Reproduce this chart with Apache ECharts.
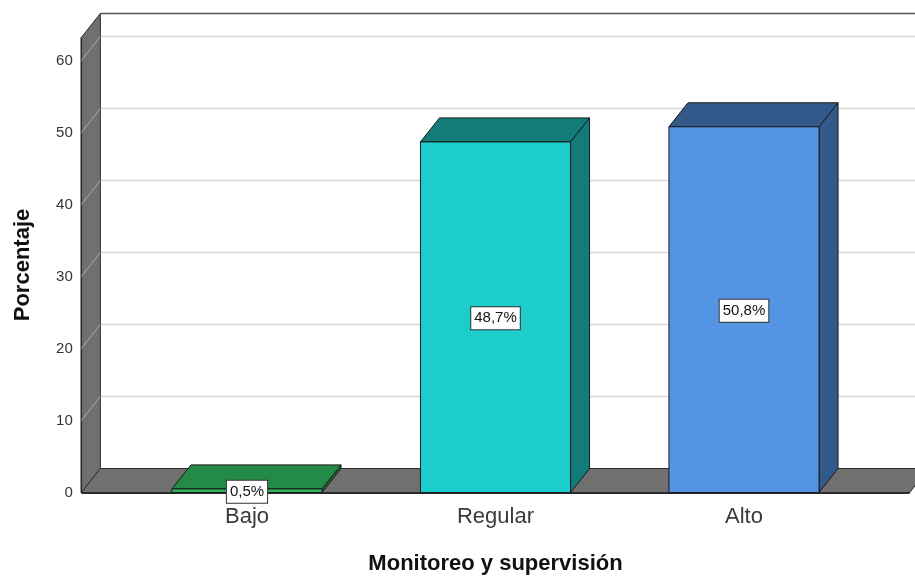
<!DOCTYPE html>
<html>
<head>
<meta charset="utf-8">
<title>Monitoreo y supervisión</title>
<script src="https://cdn.jsdelivr.net/npm/echarts@6/dist/echarts.min.js"></script>
<style>
  html, body { margin: 0; padding: 0; background: #ffffff; }
  #chart { width: 915px; height: 576px; }
</style>
</head>
<body>
<div id="chart"></div>
<script>
// Categories and percentages
var categories = ['Bajo', 'Regular', 'Alto'];
var percentages = [0.5, 48.7, 50.8];
var yTicks = [0, 10, 20, 30, 40, 50, 60];

// Face colours of each bar: front, top, side
var barFaces = [
  { front: '#31b25c', top: '#248a48', side: '#1b6c38' },
  { front: '#1ccdcc', top: '#127c79', side: '#127c79' },
  { front: '#5495e3', top: '#33598a', side: '#33598a' }
];

// Oblique depth used for the 3D look (pixels)
var DX = 19, DY = -24;
var WALL = '#707070';
var EDGE = '#2b2b2b';

var FONT = '"Liberation Sans", Arial, sans-serif';

function fmtPct(v) {
  return v.toFixed(1).replace('.', ',') + '%';
}

// Back wall, grid lines, left wall and floor
function renderFrame(params, api) {
  var cs = params.coordSys;
  var band = api.size([1, 0])[0];
  var ext = band / 6;
  var L = cs.x - ext;
  var R = cs.x + cs.width + ext;
  var top = cs.y;
  var zero = api.coord([0, 0])[1];
  var children = [];

  // back wall top edge
  children.push({
    type: 'line',
    shape: { x1: L + DX, y1: top + DY, x2: R + DX, y2: top + DY },
    style: { stroke: '#555555', lineWidth: 1.5 }
  });

  // horizontal grid lines on the back wall
  yTicks.forEach(function (t) {
    if (t === 0) return;
    var y = api.coord([0, t])[1];
    children.push({
      type: 'line',
      shape: { x1: L + DX, y1: y + DY, x2: R + DX, y2: y + DY },
      style: { stroke: '#d6d6d6', lineWidth: 1.5 }
    });
  });

  // left wall with its diagonal tick lines
  children.push({
    type: 'polygon',
    shape: { points: [[L, top], [L + DX, top + DY], [L + DX, zero + DY], [L, zero]] },
    style: { fill: WALL, stroke: EDGE, lineWidth: 1 }
  });
  children.push({
    type: 'line',
    shape: { x1: L, y1: top, x2: L, y2: zero },
    style: { stroke: EDGE, lineWidth: 1.5 }
  });
  yTicks.forEach(function (t) {
    if (t === 0) return;
    var y = api.coord([0, t])[1];
    children.push({
      type: 'line',
      shape: { x1: L, y1: y, x2: L + DX, y2: y + DY },
      style: { stroke: '#a8a8a8', lineWidth: 1 }
    });
  });

  // floor
  children.push({
    type: 'polygon',
    shape: { points: [[L, zero], [L + DX, zero + DY], [R + DX, zero + DY], [R, zero]] },
    style: { fill: WALL, stroke: EDGE, lineWidth: 1 }
  });
  children.push({
    type: 'line',
    shape: { x1: L, y1: zero + 0.5, x2: R, y2: zero + 0.5 },
    style: { stroke: EDGE, lineWidth: 2 }
  });

  return { type: 'group', children: children };
}

// One oblique bar per category
function renderBar(params, api) {
  var i = api.value(0);
  var v = api.value(1);
  var base = api.coord([i, 0]);
  var head = api.coord([i, v]);
  var band = api.size([1, 0])[0];
  var hw = band * 0.302;
  var cx = base[0];
  var x0 = cx - hw, x1 = cx + hw;
  var y0 = base[1], y1 = head[1];
  var c = barFaces[params.dataIndex];
  var line = { stroke: '#1a1a1a', lineWidth: 1 };

  return {
    type: 'group',
    children: [
      {
        type: 'polygon',
        shape: { points: [[x1, y1], [x1 + DX, y1 + DY], [x1 + DX, y0 + DY], [x1, y0]] },
        style: Object.assign({ fill: c.side }, line)
      },
      {
        type: 'polygon',
        shape: { points: [[x0, y1], [x0 + DX, y1 + DY], [x1 + DX, y1 + DY], [x1, y1]] },
        style: Object.assign({ fill: c.top }, line)
      },
      {
        type: 'rect',
        shape: { x: x0, y: y1, width: x1 - x0, height: y0 - y1 },
        style: Object.assign({ fill: c.front }, line)
      },
      {
        type: 'text',
        x: cx,
        y: (y0 + y1) / 2 + 1,
        style: {
          text: fmtPct(v),
          font: '15px ' + FONT,
          fill: '#111111',
          align: 'center',
          verticalAlign: 'middle',
          backgroundColor: '#ffffff',
          borderColor: '#333333',
          borderWidth: 1,
          padding: [4, 3, 3, 3]
        }
      }
    ]
  };
}

var chart = echarts.init(document.getElementById('chart'), null, { renderer: 'canvas' });

chart.setOption({
  backgroundColor: '#ffffff',
  animation: false,
  grid: {
    left: 122.75, right: 46.75, top: 37.5, bottom: 83.5,
    containLabel: false,
    outerBoundsMode: 'none'
  },
  xAxis: {
    type: 'category',
    data: categories,
    boundaryGap: true,
    axisLine: { show: false },
    axisTick: { show: false },
    axisLabel: { fontSize: 22, fontFamily: FONT, color: '#3a3a3a', margin: 13 },
    name: 'Monitoreo y supervisión',
    nameLocation: 'middle',
    nameGap: 60,
    nameTextStyle: { fontSize: 22, fontWeight: 'bold', fontFamily: FONT, color: '#111111' },
    z: 10
  },
  yAxis: {
    type: 'value',
    min: 0,
    max: 63.2,
    interval: 10,
    axisLine: { show: false },
    axisTick: { show: false },
    splitLine: { show: false },
    axisLabel: { fontSize: 15, fontFamily: FONT, color: '#333333', margin: 50, showMaxLabel: false },
    name: 'Porcentaje',
    nameLocation: 'middle',
    nameGap: 89,
    nameRotate: 90,
    nameTextStyle: { fontSize: 22, fontWeight: 'bold', fontFamily: FONT, color: '#111111' }
  },
  series: [
    {
      type: 'custom',
      silent: true,
      z: 1,
      renderItem: renderFrame,
      data: [[0, 0]],
      encode: { x: 0, y: 1 }
    },
    {
      type: 'custom',
      z: 5,
      renderItem: renderBar,
      data: percentages.map(function (p, i) { return [i, p]; }),
      encode: { x: 0, y: 1 }
    }
  ]
});
</script>
</body>
</html>
